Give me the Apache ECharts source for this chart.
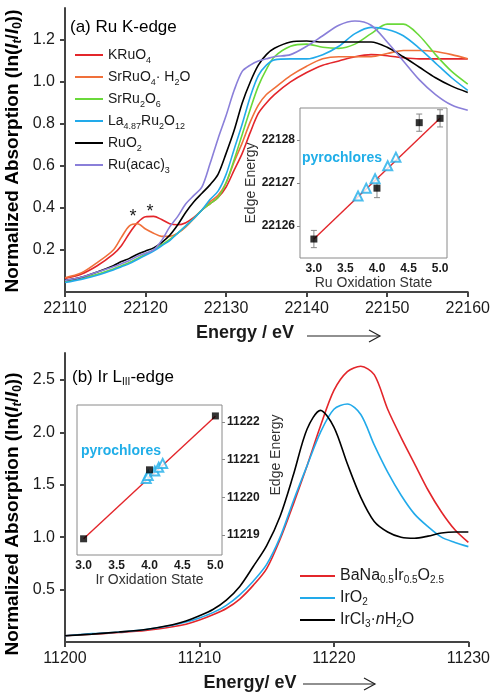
<!DOCTYPE html>
<html><head><meta charset="utf-8">
<script src="https://cdn.jsdelivr.net/npm/echarts@6/dist/echarts.min.js"></script>
<style>html,body{margin:0;padding:0;background:#fff}#c{width:493px;height:694px}</style>
</head><body><div id="c"></div>
<script>
// ---------- Panel (a): Ru K-edge ----------
const energyRu = [22110,22112,22114,22116,22117,22118,22119,22120,22121,22122,22123,22124,22125,22126,22127,22128,22129,22130,22131,22132,22133,22134,22135,22136,22138,22140,22142,22144,22146,22148,22150,22152,22154,22156,22158,22160];
const kruo4    = [0.065,0.085,0.125,0.18,0.22,0.28,0.33,0.358,0.36,0.345,0.325,0.32,0.33,0.355,0.39,0.42,0.45,0.50,0.58,0.66,0.76,0.85,0.90,0.94,1.00,1.045,1.08,1.10,1.12,1.13,1.125,1.115,1.11,1.11,1.11,1.11];
const srruo4   = [0.068,0.09,0.14,0.20,0.26,0.315,0.325,0.30,0.28,0.265,0.265,0.28,0.31,0.35,0.39,0.43,0.46,0.52,0.62,0.71,0.81,0.89,0.94,0.97,1.03,1.075,1.11,1.12,1.12,1.12,1.135,1.15,1.15,1.145,1.13,1.11];
const srru2o6  = [0.05,0.065,0.085,0.11,0.125,0.14,0.16,0.18,0.20,0.225,0.25,0.28,0.315,0.35,0.39,0.42,0.45,0.52,0.63,0.75,0.87,0.98,1.06,1.12,1.17,1.18,1.165,1.16,1.18,1.23,1.275,1.275,1.22,1.13,1.05,0.99];
const la487    = [0.045,0.06,0.08,0.105,0.12,0.135,0.155,0.175,0.195,0.22,0.245,0.28,0.315,0.35,0.39,0.44,0.48,0.56,0.68,0.80,0.93,1.03,1.08,1.105,1.11,1.11,1.13,1.17,1.23,1.26,1.25,1.22,1.16,1.09,1.02,0.96];
const ruo2     = [0.055,0.07,0.095,0.125,0.145,0.16,0.18,0.195,0.21,0.235,0.27,0.32,0.38,0.43,0.47,0.51,0.56,0.66,0.77,0.90,1.00,1.08,1.13,1.16,1.19,1.195,1.19,1.19,1.19,1.19,1.165,1.12,1.07,1.02,0.98,0.95];
const ruacac   = [0.055,0.07,0.095,0.12,0.135,0.15,0.17,0.185,0.20,0.245,0.31,0.36,0.42,0.46,0.50,0.61,0.73,0.84,0.96,1.05,1.08,1.10,1.11,1.12,1.13,1.17,1.22,1.27,1.29,1.27,1.19,1.10,1.01,0.94,0.89,0.865];
const ruNames  = ['KRuO_{4}','SrRuO_{4}· H_{2}O','SrRu_{2}O_{6}','La_{4.87}Ru_{2}O_{12}','RuO_{2}','Ru(acac)_{3}'];
const ruXTicks = [22110,22120,22130,22140,22150,22160];
const ruYTicks = [0.2,0.4,0.6,0.8,1.0,1.2];

// inset (a)
const ruStateSq = [3.0,4.0,4.67,5.0];
const ruEdgeSq  = [22125.7,22126.88,22128.4,22128.5];
const ruErrSq   = [0.2,0.22,0.2,0.2];
const ruStateTri = [3.70,3.83,3.97,4.17,4.30];
const ruEdgeTri  = [22126.7,22126.88,22127.1,22127.4,22127.6];
const ruFitState = [3.0,5.0];
const ruFitEdge  = [22125.7,22128.5];
const ruInsetX = [3.0,3.5,4.0,4.5,5.0];
const ruInsetY = [22126,22127,22128];

// ---------- Panel (b): Ir L3-edge ----------
const energyIr = [11200,11202,11204,11206,11208,11209,11210,11211,11212,11213,11214,11215,11216,11217,11218,11219,11220,11221,11222,11223,11224,11225,11226,11227,11228,11229,11230];
const banairo  = [0.06,0.075,0.09,0.11,0.145,0.17,0.21,0.26,0.32,0.41,0.54,0.70,0.98,1.32,1.68,2.06,2.40,2.58,2.63,2.55,2.22,1.95,1.70,1.45,1.24,1.07,0.95];
const iro2     = [0.06,0.08,0.095,0.12,0.16,0.19,0.23,0.28,0.35,0.45,0.58,0.74,1.00,1.35,1.68,2.00,2.22,2.27,2.17,1.88,1.62,1.40,1.22,1.10,1.00,0.95,0.91];
const ircl3    = [0.06,0.075,0.095,0.12,0.165,0.20,0.25,0.31,0.40,0.53,0.72,0.92,1.20,1.60,2.03,2.21,2.05,1.70,1.38,1.15,1.05,1.00,0.99,1.01,1.04,1.05,1.05];
const irNames  = ['BaNa_{0.5}Ir_{0.5}O_{2.5}','IrO_{2}','IrCl_{3}·*n*H_{2}O'];
const irXTicks = [11200,11210,11220,11230];
const irYTicks = [0.5,1.0,1.5,2.0,2.5];

// inset (b)
const irStateSq = [3.0,4.0,5.0];
const irEdgeSq  = [11218.9,11220.73,11222.16];
const irStateTri = [3.95,3.98,4.08,4.14,4.20];
const irEdgeTri  = [11220.5,11220.58,11220.7,11220.8,11220.9];
const irFitState = [3.0,5.0];
const irFitEdge  = [11218.9,11222.15];
const irInsetX = [3.0,3.5,4.0,4.5,5.0];
const irInsetY = [11219,11220,11221,11222];

// ---------- styles ----------
const FONT = '"Liberation Sans", Arial, Helvetica, sans-serif';
const TXT = '#1a1a1a';
const AX = '#444';
const RED='#e3262b', ORANGE='#f0703a', GREEN='#6ad93a', BLUE='#22aaea', PURPLE='#8a7fd9', BLACK='#000';
const CYAN='#20aee8';

function markup(s, n, sub, it) {
  return s.replace(/_\{([^}]*)\}|\*([^*]*)\*|([^_*]+)/g, (m,a,b,c) =>
    a!==undefined ? '{'+sub+'|'+a+'}' : b!==undefined ? '{'+it+'|'+b+'}' : '{'+n+'|'+c+'}');
}
const zip = (xs, ys) => xs.map((x,i)=>[x, ys[i]]);

function mainLine(name, xs, ys, color, gi) {
  return { name, type:'line', xAxisIndex:gi, yAxisIndex:gi, data: zip(xs, ys), smooth:0.3,
    showSymbol:false, symbol:'none', lineStyle:{color, width:1.6}, itemStyle:{color}, z:3, silent:true };
}
function mainX(gi, min, max, ticks) {
  return { type:'value', gridIndex:gi, min, max, interval:10,
    axisLine:{show:true, onZero:false, lineStyle:{color:AX, width:2}},
    axisTick:{show:true, length:5, lineStyle:{color:AX, width:2}, customValues:ticks},
    axisLabel:{color:TXT, fontSize:16, fontFamily:FONT, margin:9, customValues:ticks, formatter:v=>String(v)},
    splitLine:{show:false} };
}
function mainY(gi, max, ticks) {
  return { type:'value', gridIndex:gi, min:0, max,
    axisLine:{show:true, onZero:false, lineStyle:{color:AX, width:2}},
    axisTick:{show:true, length:5, lineStyle:{color:AX, width:2}, customValues:ticks},
    axisLabel:{color:TXT, fontSize:16, fontFamily:FONT, margin:10, customValues:ticks,
      formatter:v=>v.toFixed(1)},
    splitLine:{show:false} };
}
function insetX(gi, min, max, ticks, name) {
  return { type:'value', gridIndex:gi, min, max, name, nameLocation:'middle', nameGap:17,
    nameTextStyle:{fontSize:14, color:'#333', fontFamily:FONT},
    axisLine:{show:false}, axisTick:{show:false, customValues:ticks},
    axisLabel:{color:TXT, fontSize:12, fontWeight:'bold', fontFamily:FONT, margin:5, customValues:ticks,
      formatter:v=>v.toFixed(1)},
    splitLine:{show:false} };
}
function insetY(gi, min, max, ticks, pos) {
  return { type:'value', gridIndex:gi, min, max, position:pos,
    axisLine:{show:false}, axisTick:{show:true, inside:false, length:3, lineStyle:{color:'#888'}, customValues:ticks},
    axisLabel:{color:TXT, fontSize:12, fontWeight:'bold', fontFamily:FONT, margin:5, customValues:ticks, formatter:v=>String(v)},
    splitLine:{show:false} };
}
function errBars(gi, xs, ys, es) {
  return { type:'custom', xAxisIndex:gi, yAxisIndex:gi, silent:true, z:4,
    data: xs.map((x,i)=>[x, ys[i], es[i]]),
    renderItem:(p, api)=>{
      const x=api.value(0), y=api.value(1), e=api.value(2);
      const t=api.coord([x,y+e]), b=api.coord([x,y-e]);
      const st={stroke:'#888', lineWidth:1};
      return {type:'group', children:[
        {type:'line', shape:{x1:t[0],y1:t[1],x2:b[0],y2:b[1]}, style:st},
        {type:'line', shape:{x1:t[0]-3,y1:t[1],x2:t[0]+3,y2:t[1]}, style:st},
        {type:'line', shape:{x1:b[0]-3,y1:b[1],x2:b[0]+3,y2:b[1]}, style:st}
      ]};
    } };
}
function sq(gi, xs, ys) {
  return { type:'scatter', xAxisIndex:gi, yAxisIndex:gi, data:zip(xs,ys), symbol:'rect', symbolSize:7,
    itemStyle:{color:'#000'}, z:6, silent:true };
}
function tri(gi, xs, ys) {
  return { type:'scatter', xAxisIndex:gi, yAxisIndex:gi, data:zip(xs,ys), symbol:'triangle', symbolSize:9,
    itemStyle:{color:'#fff', borderColor:CYAN, borderWidth:2}, z:5, silent:true };
}
function fit(gi, xs, ys) {
  return { type:'line', xAxisIndex:gi, yAxisIndex:gi, data:zip(xs,ys), showSymbol:false, symbol:'none',
    lineStyle:{color:RED, width:1.4}, z:3, silent:true };
}

const legRichTop = {
  n:{fontSize:14, fontFamily:FONT, color:TXT, lineHeight:20, verticalAlign:'middle'},
  s:{fontSize:9, fontFamily:FONT, color:TXT, lineHeight:9, verticalAlign:'bottom'},
  i:{fontSize:14, fontFamily:FONT, color:TXT, fontStyle:'italic', lineHeight:20, verticalAlign:'middle'}
};
const legRichBot = {
  n:{fontSize:16, fontFamily:FONT, color:TXT, lineHeight:18, verticalAlign:'middle'},
  s:{fontSize:10, fontFamily:FONT, color:TXT, lineHeight:8, verticalAlign:'bottom'},
  i:{fontSize:16, fontFamily:FONT, color:TXT, fontStyle:'italic', lineHeight:18, verticalAlign:'middle'}
};
const yTitleRich = {
  b:{fontSize:19, fontWeight:'bold', fontFamily:FONT, color:TXT, lineHeight:22, verticalAlign:'middle'},
  bi:{fontSize:19, fontWeight:'bold', fontStyle:'italic', fontFamily:FONT, color:TXT, lineHeight:22, verticalAlign:'middle'},
  s:{fontSize:12, fontWeight:'bold', fontFamily:FONT, color:TXT, lineHeight:9, verticalAlign:'bottom'},
  si:{fontSize:12, fontWeight:'bold', fontStyle:'italic', fontFamily:FONT, color:TXT, lineHeight:9, verticalAlign:'bottom'}
};
const yTitleText = markup('Normalized Absorption (ln(', 'b','s','bi') + '{bi|I}{si|t}{b|/}{bi|I}{s|0}{b|))}';
const titleRich = {
  n:{fontSize:17, fontFamily:FONT, color:TXT, lineHeight:20, verticalAlign:'middle'},
  s:{fontSize:10, fontFamily:FONT, color:TXT, lineHeight:8, verticalAlign:'bottom'},
  i:{fontSize:17, fontFamily:FONT, color:TXT, lineHeight:20, verticalAlign:'middle'}
};

function arrow(x1, x2, y) {
  return [
    {type:'line', shape:{x1, y1:y, x2, y2:y}, style:{stroke:'#222', lineWidth:1.2}},
    {type:'polyline', shape:{points:[[x2-11,y-6],[x2,y],[x2-11,y+6]]}, style:{stroke:'#222', lineWidth:1.2, fill:null}}
  ];
}

const chart = echarts.init(document.getElementById('c'), null, {renderer:'canvas'});
const topColors = [RED, ORANGE, GREEN, BLUE, BLACK, PURPLE];
const topData = [kruo4, srruo4, srru2o6, la487, ruo2, ruacac];
const botColors = [RED, BLUE, BLACK];
const botData = [banairo, iro2, ircl3];

const option = {
  animation:false,
  backgroundColor:'#fff',
  grid:[
    {left:65, top:8, width:405, height:284, show:false},
    {left:300, top:108, width:147, height:150, show:true, borderColor:'#8a8a8a', borderWidth:1, backgroundColor:'#fff', z:1},
    {left:65, top:353, width:405, height:289, show:false},
    {left:77, top:405, width:145, height:150, show:true, borderColor:'#8a8a8a', borderWidth:1, backgroundColor:'#fff', z:1}
  ],
  xAxis:[
    mainX(0, 22110, 22160, ruXTicks),
    insetX(1, 2.78, 5.11, ruInsetX, 'Ru Oxidation State'),
    mainX(2, 11200, 11230, irXTicks),
    insetX(3, 2.9, 5.1, irInsetX, 'Ir Oxidation State')
  ],
  yAxis:[
    mainY(0, 1.352, ruYTicks),
    Object.assign(insetY(1, 22125.26, 22128.74, ruInsetY, 'left'),
      {name:'Edge Energy', nameLocation:'middle', nameGap:42, nameRotate:90,
       nameTextStyle:{fontSize:14, color:'#333', fontFamily:FONT}}),
    mainY(2, 2.757, irYTicks),
    insetY(3, 11218.47, 11222.45, irInsetY, 'right')
  ],
  legend:[
    {orient:'vertical', left:75, top:48, padding:0, icon:'rect', itemWidth:28, itemHeight:2, itemGap:5,
     data: ruNames, formatter:n=>markup(n,'n','s','i'), textStyle:{rich:legRichTop}, selectedMode:false},
    {orient:'vertical', left:300, top:568, padding:0, icon:'rect', itemWidth:35, itemHeight:2, itemGap:5,
     data: irNames, formatter:n=>markup(n,'n','s','i'), textStyle:{rich:legRichBot}, selectedMode:false}
  ],
  series:[
    ...ruNames.map((n,i)=>mainLine(n, energyRu, topData[i], topColors[i], 0)),
    ...irNames.map((n,i)=>mainLine(n, energyIr, botData[i], botColors[i], 2)),
    fit(1, ruFitState, ruFitEdge),
    errBars(1, ruStateSq, ruEdgeSq, ruErrSq),
    sq(1, ruStateSq, ruEdgeSq),
    tri(1, ruStateTri, ruEdgeTri),
    fit(3, irFitState, irFitEdge),
    sq(3, irStateSq, irEdgeSq),
    tri(3, irStateTri, irEdgeTri)
  ],
  graphic:[
    {type:'text', x:13, y:151, rotation:Math.PI/2, style:{text:yTitleText, rich:yTitleRich, align:'center', verticalAlign:'middle'}},
    {type:'text', x:13, y:514, rotation:Math.PI/2, style:{text:yTitleText, rich:yTitleRich, align:'center', verticalAlign:'middle'}},
    {type:'text', x:245, y:333, style:{text:'Energy / eV', fontSize:18, fontWeight:'bold', fontFamily:FONT, fill:TXT, align:'center', verticalAlign:'middle'}},
    ...arrow(307, 380, 336),
    {type:'text', x:250, y:683, style:{text:'Energy/ eV', fontSize:18, fontWeight:'bold', fontFamily:FONT, fill:TXT, align:'center', verticalAlign:'middle'}},
    ...arrow(303, 375, 684),
    {type:'text', x:70, y:27, style:{text:markup('(a) Ru K-edge','n','s','i'), rich:titleRich, align:'left', verticalAlign:'middle'}},
    {type:'text', x:72, y:377, style:{text:markup('(b) Ir L_{III}-edge','n','s','i'), rich:titleRich, align:'left', verticalAlign:'middle'}},
    {type:'text', x:133, y:217, style:{text:'*', fontSize:18, fontFamily:FONT, fill:TXT, align:'center', verticalAlign:'middle'}},
    {type:'text', x:150, y:212, style:{text:'*', fontSize:18, fontFamily:FONT, fill:TXT, align:'center', verticalAlign:'middle'}},
    {type:'text', x:342, y:158, z:10, style:{text:'pyrochlores', fontSize:14, fontWeight:'bold', fontFamily:FONT, fill:CYAN, align:'center', verticalAlign:'middle'}},
    {type:'text', x:121, y:451, z:10, style:{text:'pyrochlores', fontSize:14, fontWeight:'bold', fontFamily:FONT, fill:CYAN, align:'center', verticalAlign:'middle'}},
    {type:'text', x:276, y:455, rotation:Math.PI/2, style:{text:'Edge Energy', fontSize:14, fontFamily:FONT, fill:'#333', align:'center', verticalAlign:'middle'}}
  ]
};
chart.setOption(option);
</script>
</body></html>
